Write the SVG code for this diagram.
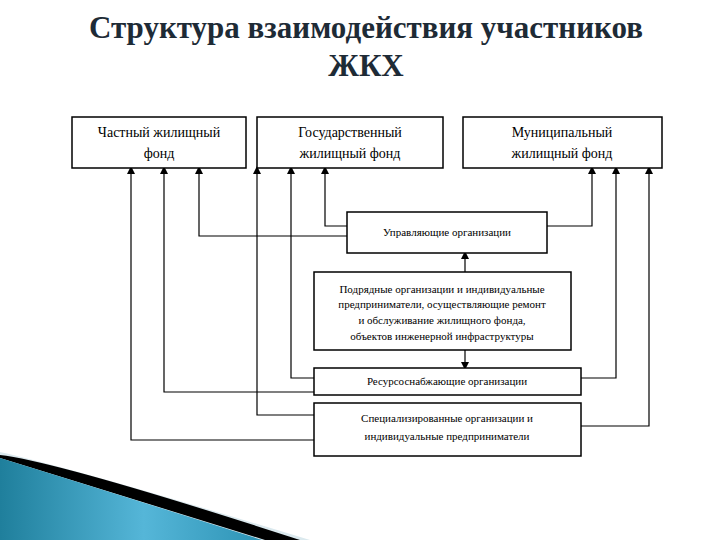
<svg xmlns="http://www.w3.org/2000/svg" width="720" height="540" viewBox="0 0 720 540">
<style>
.box{fill:#fff;stroke:#000;stroke-width:1.5}
.t{font-family:"Liberation Serif",serif;font-size:14px;fill:#000;text-anchor:middle}
.ts{font-family:"Liberation Serif",serif;font-size:11px;fill:#000;text-anchor:middle}
.c{fill:none;stroke:#000;stroke-width:1.2}
.title{font-family:"Liberation Serif",serif;font-size:31px;font-weight:bold;fill:#1e2b36;text-anchor:middle}
</style>
<defs>
<marker id="a" markerWidth="8" markerHeight="8" refX="4" refY="4" orient="auto" markerUnits="userSpaceOnUse"><path d="M0,0 L8,4 L0,8 z" fill="#000"/></marker>
<linearGradient id="g" x1="0" y1="0" x2="1" y2="0"><stop offset="0" stop-color="#1f7f9c"/><stop offset="0.55" stop-color="#55b6d8"/><stop offset="1" stop-color="#2d93b5"/></linearGradient>
</defs>
<rect width="720" height="540" fill="#fff"/>
<path d="M0,452 Q80,470 310,540 L0,540 z" fill="#dbe9ee"/>
<path d="M0,455 Q60,462 300,540 L265,540 Q120,495 0,458 z" fill="#000"/>
<path d="M0,458 Q120,495 262,540 L0,540 z" fill="url(#g)"/>
<text class="title" x="366" y="38">Структура взаимодействия участников</text>
<text class="title" x="366" y="76">ЖКХ</text>
<g id="connectors">
<path class="c" d="M314,440 H131 V170" marker-end="url(#a)"/>
<path class="c" d="M314,392 H164 V170" marker-end="url(#a)"/>
<path class="c" d="M347,236 H199 V170" marker-end="url(#a)"/>
<path class="c" d="M314,415 H257 V170" marker-end="url(#a)"/>
<path class="c" d="M314,378 H291 V170" marker-end="url(#a)"/>
<path class="c" d="M347,226 H325 V170" marker-end="url(#a)"/>
<path class="c" d="M547,226 H592 V170" marker-end="url(#a)"/>
<path class="c" d="M581,378 H616 V170" marker-end="url(#a)"/>
<path class="c" d="M581,426 H649 V170" marker-end="url(#a)"/>
<path class="c" d="M465,272 V255" marker-end="url(#a)"/>
<path class="c" d="M465,350 V366" marker-end="url(#a)"/>
</g>
<g id="n1"><rect class="box" x="72" y="117" width="174" height="51"/><text class="t" x="159" y="137">Частный жилищный</text><text class="t" x="159" y="158">фонд</text></g>
<g id="n2"><rect class="box" x="257" y="117" width="186" height="51"/><text class="t" x="350" y="137">Государственный</text><text class="t" x="350" y="158">жилищный фонд</text></g>
<g id="n3"><rect class="box" x="463" y="117" width="199" height="51"/><text class="t" x="562" y="137">Муниципальный</text><text class="t" x="562" y="158">жилищный фонд</text></g>
<g id="n4"><rect class="box" x="347" y="212" width="200" height="41"/><text class="ts" x="447" y="236">Управляющие организации</text></g>
<g id="n5"><rect class="box" x="314" y="272" width="257" height="78"/>
<text class="ts" x="442" y="293">Подрядные организации и индивидуальные</text>
<text class="ts" x="442" y="308">предприниматели, осуществляющие ремонт</text>
<text class="ts" x="442" y="324">и обслуживание жилищного фонда,</text>
<text class="ts" x="442" y="340">объектов инженерной инфраструктуры</text></g>
<g id="n6"><rect class="box" x="314" y="368" width="267" height="27"/><text class="ts" x="447" y="385">Ресурсоснабжающие организации</text></g>
<g id="n7"><rect class="box" x="314" y="403" width="267" height="53"/><text class="ts" x="447" y="422">Специализированные организации и</text><text class="ts" x="447" y="440">индивидуальные предприниматели</text></g>
</svg>
